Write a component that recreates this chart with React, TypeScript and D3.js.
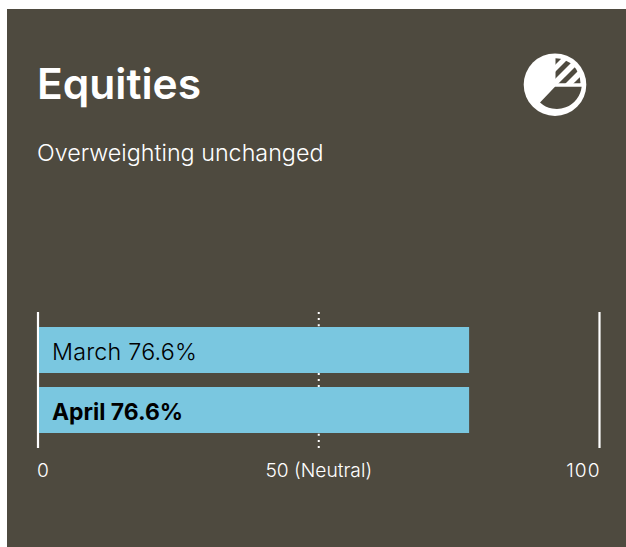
import React from "react";
import * as d3 from "d3";

const rowLabels = ["March", "April"];
const rowValues = [76.6, 76.6];
const axisTicks = [0, 50, 100];
const tickLabels = ["0", "50 (Neutral)", "100"];
const title = "Equities";
const subtitle = "Overweighting unchanged";

const W = 626, H = 547;
const font = "Inter, 'Noto Sans', sans-serif";
const panel = "#4e4a3f";

export default function App() {
  const x = d3.scaleLinear().domain([0, 100]).range([38, 599.5]);
  const y = d3.scaleBand<string>().domain(rowLabels).range([327, 433]).paddingInner(14 / 60).paddingOuter(0);

  const hatch = d3.arc()({ innerRadius: 0, outerRadius: 25, startAngle: 0, endAngle: Math.PI / 2 }) as string;
  const stripeSums = [616.5, 630.5, 645.5, 660.5];

  const lower = d3.path();
  lower.moveTo(555, 86.7);
  lower.lineTo(581.7, 86.7);
  lower.arc(556.8, 84, 25, Math.atan2(2.7, 24.9), Math.atan2(19.3, -17.5), false);
  lower.closePath();

  return (
    <svg width={W} height={H} style={{ position: "fixed", left: 0, top: 0, display: "block" }}>
      <rect x={7} y={9} width={W - 7} height={H - 9} fill={panel} />
      <text x={37} y={99} fontFamily={font} fontSize={42.5} fontWeight={600} fill="#fff">{title}</text>
      <text x={37} y={161} fontFamily={font} fontSize={23.3} fontWeight={300} fill="#fff">{subtitle}</text>

      <defs>
        <clipPath id="hatchClip"><path d={hatch} transform="translate(555.5,83.3)" /></clipPath>
      </defs>
      <circle cx={555} cy={84.7} r={31.3} fill="#fff" />
      <path d={lower.toString()} fill={panel} />
      <g clipPath="url(#hatchClip)">
        {stripeSums.map(s => (
          <line key={s} x1={s - 50} y1={50} x2={s - 110} y2={110} stroke={panel} strokeWidth={5} />
        ))}
      </g>

      {axisTicks.map((t, i) => (
        <line key={t} x1={x(t)} x2={x(t)} y1={312} y2={448} stroke="#fff"
          strokeWidth={i === 1 ? 2 : 2.2} strokeDasharray={i === 1 ? "2 4.09" : undefined} />
      ))}
      {rowLabels.map((r, i) => (
        <g key={r}>
          <rect x={x(0) + 1} y={y(r)} width={x(rowValues[i]) - x(0)} height={y.bandwidth()} fill="#7ac7e0" />
          <text x={52} y={y(r)! + 33} fontFamily={font} fontSize={i === 1 ? 22.9 : 23.3}
            letterSpacing={i === 1 ? 0 : 0.2} fontWeight={i === 1 ? 700 : 300} fill="#000">
            {`${r} ${rowValues[i]}%`}
          </text>
        </g>
      ))}
      {axisTicks.map((t, i) => (
        <text key={t} x={i === 0 ? 37 : i === 1 ? x(t) : x(t) + 1} y={477}
          textAnchor={i === 0 ? "start" : i === 1 ? "middle" : "end"}
          letterSpacing={i === 2 ? 1 : 0}
          fontFamily={font} fontSize={19.2} fontWeight={300} fill="#fff">{tickLabels[i]}</text>
      ))}
    </svg>
  );
}
